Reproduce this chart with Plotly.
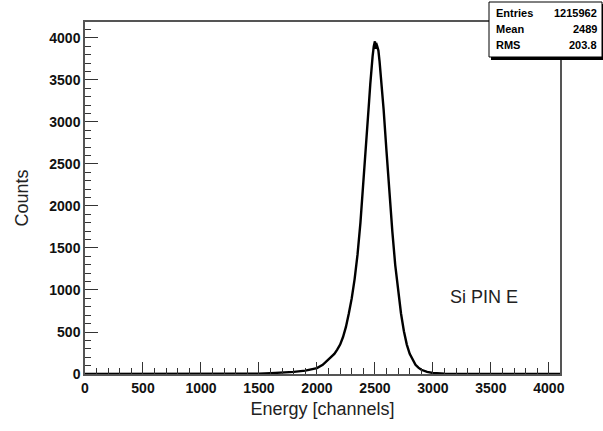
import plotly.graph_objects as go

# Si PIN energy spectrum: channel centres and counts
channels = [0, 500, 1000, 1400, 1500, 1600, 1700, 1800, 1900, 1950, 2000, 2050, 2100,
            2150, 2175, 2200, 2225, 2250, 2275, 2300, 2325, 2350, 2375, 2400, 2425,
            2450, 2460, 2470, 2480, 2490, 2500, 2505, 2510, 2520, 2530, 2540, 2550,
            2575, 2600, 2625, 2650, 2675,
            2700, 2725, 2750, 2775, 2800, 2825, 2850, 2875, 2900, 2950, 3000, 3100,
            3200, 3500, 4000, 4096]
counts = [0, 0, 0, 2, 5, 10, 15, 25, 40, 55, 70, 110, 170,
          240, 290, 350, 440, 560, 720, 900, 1130, 1420, 1800, 2250, 2750,
          3250, 3450, 3650, 3780, 3900, 3960, 3870, 3940, 3900, 3850, 3720, 3580,
          3150, 2650, 2150, 1700, 1300,
          970, 720, 510, 350, 240, 165, 110, 75, 50, 25, 12, 5,
          2, 0, 0, 0]

stat_names = ["Entries", "Mean", "RMS"]
stat_values = ["1215962", "2489", "203.8"]

x_ticks = [0, 500, 1000, 1500, 2000, 2500, 3000, 3500, 4000]
y_ticks = [0, 500, 1000, 1500, 2000, 2500, 3000, 3500, 4000]

W, H = 603, 431
L, R, T, B = 85, 560, 22, 374


def px(x):
    return (x - L) / (R - L)


def py(y):
    return (B - y) / (B - T)


fig = go.Figure()
fig.add_trace(go.Scatter(x=channels, y=counts, mode="lines",
                         line=dict(color="black", width=2.4), hoverinfo="skip",
                         showlegend=False))

tick_font = dict(family="Liberation Sans, Arial, sans-serif", size=14,
                 color="#111", weight="bold")
title_font = dict(family="Liberation Sans, Arial, sans-serif", size=18, color="#222")

fig.update_xaxes(range=[0, 4096], tickvals=x_ticks, ticktext=[str(v) for v in x_ticks],
                 ticks="inside", ticklen=12, tickwidth=1, tickcolor="#333",
                 minor=dict(dtick=100, ticks="inside", ticklen=6, tickcolor="#333"),
                 showline=True, linecolor="#555", linewidth=1.5, mirror=True,
                 showgrid=False, zeroline=False, tickfont=tick_font,
                 title=dict(text="Energy [channels]", font=title_font, standoff=8))
fig.update_yaxes(range=[0, 4190], tickvals=y_ticks, ticktext=[str(v) for v in y_ticks],
                 ticks="inside", ticklen=13, tickwidth=1, tickcolor="#333",
                 minor=dict(dtick=100, ticks="inside", ticklen=6, tickcolor="#333"),
                 showline=True, linecolor="#555", linewidth=1.5, mirror=True,
                 showgrid=False, zeroline=False, tickfont=tick_font,
                 title=dict(text="Counts", font=title_font, standoff=16))

# statistics box with drop shadow
bx0, bx1, by0, by1 = 489, 602, 2, 57
shapes = [
    dict(type="rect", xref="paper", yref="paper",
         x0=px(bx0 + 2), x1=px(bx1 + 3), y0=py(by1 + 3), y1=py(by0 + 2),
         fillcolor="black", line=dict(width=0)),
    dict(type="rect", xref="paper", yref="paper",
         x0=px(bx0), x1=px(bx1), y0=py(by1), y1=py(by0),
         fillcolor="white", line=dict(color="black", width=1)),
]
annotations = []
stat_font = dict(family="Liberation Sans, Arial, sans-serif", size=11,
                 color="black", weight="bold")
for i, (name, val) in enumerate(zip(stat_names, stat_values)):
    yy = py(13 + i * 16)
    annotations.append(dict(x=px(bx0 + 5), y=yy, xref="paper", yref="paper",
                            text=name, showarrow=False, xanchor="left",
                            yanchor="middle", font=stat_font))
    annotations.append(dict(x=px(bx1 - 3), y=yy, xref="paper", yref="paper",
                            text=val, showarrow=False, xanchor="right",
                            yanchor="middle", font=stat_font))

annotations.append(dict(x=px(484), y=py(297), xref="paper", yref="paper",
                        text="Si PIN E", showarrow=False, xanchor="center",
                        yanchor="middle",
                        font=dict(family="Liberation Sans, Arial, sans-serif",
                                  size=18, color="#222")))

fig.update_layout(width=W, height=H, margin=dict(l=L, r=W - R, t=T, b=H - B),
                  plot_bgcolor="white", paper_bgcolor="white",
                  shapes=shapes, annotations=annotations)

fig.write_html("out.html")
